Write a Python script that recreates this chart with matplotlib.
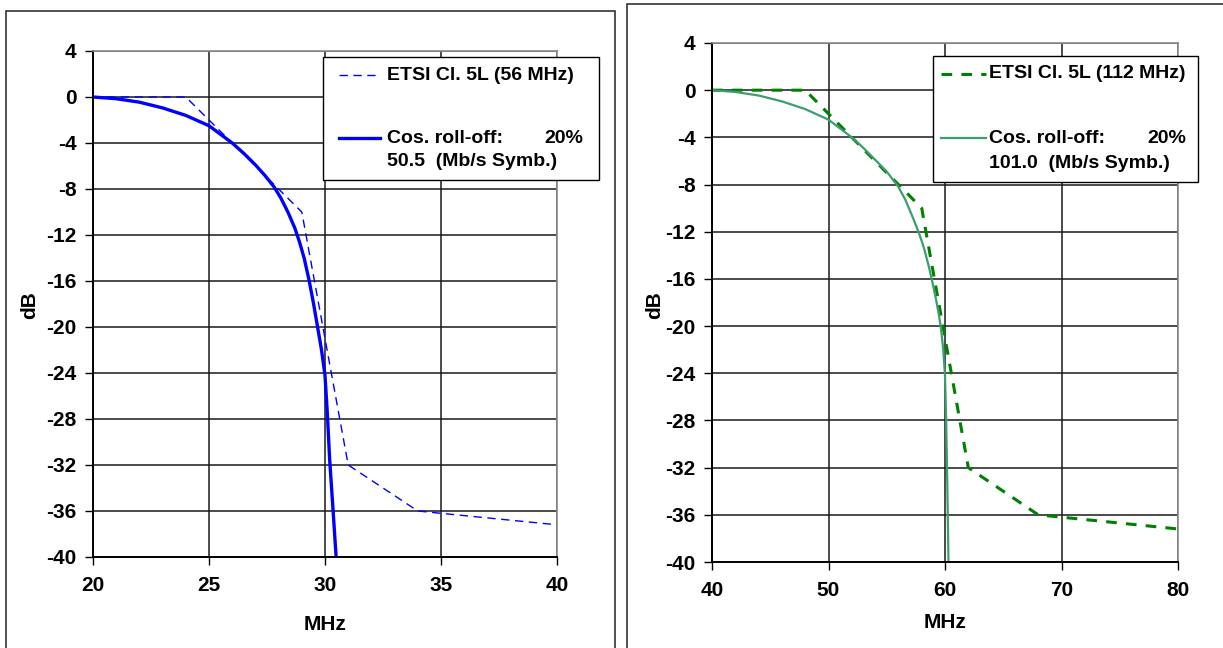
import matplotlib
matplotlib.use("Agg")
import matplotlib.pyplot as plt
from matplotlib.patches import Rectangle
from matplotlib.lines import Line2D

plt.rcParams['font.family'] = ['Liberation Sans', 'DejaVu Sans']
plt.rcParams['font.weight'] = 'bold'
plt.rcParams['axes.unicode_minus'] = False

W, H = 1223, 648

# ---- data ----
# left chart : 56 MHz channel
l_mask_f = [20, 24, 29, 31, 34, 40]
l_mask_db = [0, 0, -10, -32, -36, -37.2]
l_cos_f = [20, 21, 22, 23, 24, 25, 26, 26.5, 27, 27.4, 27.8, 28.1, 28.4, 28.7,
           28.9, 29.1, 29.3, 29.5, 29.68, 29.85, 30.0, 30.1, 30.2, 30.35, 30.48]
l_cos_db = [0, -0.15, -0.45, -0.95, -1.6, -2.5, -4.0, -4.9, -5.9, -6.8, -7.8,
            -8.8, -10.0, -11.4, -12.6, -14.0, -15.8, -17.9, -20.0, -22.0,
            -24.2, -27.5, -31.5, -36.0, -40.0]

# right chart : 112 MHz channel
r_mask_f = [40, 48, 58, 62, 68, 80]
r_mask_db = [0, 0, -10, -32, -36, -37.2]
r_cos_f = [40, 42, 44, 46, 48, 50, 52, 53, 54, 55, 56, 56.6, 57.2, 57.8, 58.2,
           58.6, 58.9, 59.2, 59.45, 59.67, 59.85, 60.0, 60.1, 60.2, 60.3]
r_cos_db = [0, -0.15, -0.45, -0.95, -1.6, -2.5, -4.0, -4.9, -5.9, -6.9, -8.2,
            -9.3, -10.7, -12.2, -13.4, -14.9, -16.2, -17.6, -18.9, -20.3,
            -22.0, -24.2, -28.0, -33.5, -40.0]

y_ticks = [4, 0, -4, -8, -12, -16, -20, -24, -28, -32, -36, -40]
l_xticks = [20, 25, 30, 35, 40]
r_xticks = [40, 50, 60, 70, 80]

l_leg = ['ETSI Cl. 5L (56 MHz)', 'Cos. roll-off:', '20%', '50.5  (Mb/s Symb.)']
r_leg = ['ETSI Cl. 5L (112 MHz)', 'Cos. roll-off:', '20%', '101.0  (Mb/s Symb.)']

FS_TICK = 15
FS_LEG = 14


def fx(p):
    return p / W


def fy(p):
    return 1 - p / H


def box(x0, y0, x1, y1):
    # rectangle in pixel coords -> figure fraction
    return [fx(x0), fy(y1), fx(x1) - fx(x0), fy(y0) - fy(y1)]


fig = plt.figure(figsize=(W / 100, H / 100), dpi=100)

# outer frames of the two chart objects
fig.patches.append(Rectangle((fx(6), fy(700)), fx(615) - fx(6), fy(11) - fy(700),
                             transform=fig.transFigure, fill=False,
                             edgecolor='#333333', lw=1.2))
fig.patches.append(Rectangle((fx(627), fy(700)), fx(1240) - fx(627), fy(4) - fy(700),
                             transform=fig.transFigure, fill=False,
                             edgecolor='#333333', lw=1.2))


def setup(ax, xlim, xticks):
    ax.set_xlim(*xlim)
    ax.set_ylim(-40, 4)
    ax.set_xticks(xticks)
    ax.set_yticks(y_ticks)
    ax.set_axisbelow(True)
    ax.grid(True, color='#1a1a1a', lw=1.1)
    ax.tick_params(direction='out', length=6, width=1.0, labelsize=FS_TICK,
                   colors='black')
    ax.tick_params(axis='y', pad=6)
    ax.tick_params(axis='x', pad=8)
    for s in ['top', 'right']:
        ax.spines[s].set_color('#8c8c8c')
        ax.spines[s].set_linewidth(1.2)
    for s in ['left', 'bottom']:
        ax.spines[s].set_color('black')
        ax.spines[s].set_linewidth(1.4)
    for lab in ax.get_xticklabels() + ax.get_yticklabels():
        lab.set_fontweight('bold')


# ---- left chart ----
ax1 = fig.add_axes(box(93, 51, 557, 557))
ax1.plot(l_mask_f, l_mask_db, color='#0000ff', lw=1.0, dashes=(6, 4))
ax1.plot(l_cos_f, l_cos_db, color='#0000ff', lw=2.4, solid_joinstyle='round')
setup(ax1, (20, 40), l_xticks)

# ---- right chart ----
ax2 = fig.add_axes(box(712, 43, 1178, 562))
ax2.plot(r_mask_f, r_mask_db, color='#008000', lw=2.2, dashes=(3.5, 3))
ax2.plot(r_cos_f, r_cos_db, color='#3a9e6e', lw=1.6, solid_joinstyle='round')
setup(ax2, (40, 80), r_xticks)

# axis titles
for x, y in [(30, 305), (655, 305)]:
    fig.text(fx(x), fy(y), 'dB', rotation=90, ha='center', va='center',
             fontsize=15, fontweight='bold')
for x, y in [(325, 625), (945, 622)]:
    fig.text(fx(x), fy(y), 'MHz', ha='center', va='center',
             fontsize=15, fontweight='bold')


# legends drawn by hand (multi-line second entry, handle on first line)
def legend(x0, y0, x1, y1, hx0, hx1, tx, rx, ys, texts, dash_style, solid_style):
    fig.patches.append(Rectangle((fx(x0), fy(y1)), fx(x1) - fx(x0), fy(y0) - fy(y1),
                                 transform=fig.transFigure, facecolor='white',
                                 edgecolor='black', lw=1.0, zorder=5))
    fig.lines.append(Line2D([fx(hx0), fx(hx1)], [fy(ys[0]), fy(ys[0])],
                            transform=fig.transFigure, zorder=6, **dash_style))
    fig.lines.append(Line2D([fx(hx0), fx(hx1)], [fy(ys[1]), fy(ys[1])],
                            transform=fig.transFigure, zorder=6, **solid_style))
    fig.text(fx(tx), fy(ys[0]), texts[0], va='center', ha='left', fontsize=FS_LEG,
             fontweight='bold', zorder=7)
    fig.text(fx(tx), fy(ys[1]), texts[1], va='center', ha='left', fontsize=FS_LEG,
             fontweight='bold', zorder=7)
    fig.text(fx(rx), fy(ys[1]), texts[2], va='center', ha='right', fontsize=FS_LEG,
             fontweight='bold', zorder=7)
    fig.text(fx(tx), fy(ys[2]), texts[3], va='center', ha='left', fontsize=FS_LEG,
             fontweight='bold', zorder=7)


legend(323, 57, 599, 180, 339, 380, 387, 583, (75, 138, 162), l_leg,
       dict(color='#0000ff', lw=1.0, dashes=(6, 4)),
       dict(color='#0000ff', lw=2.4))
legend(933, 56, 1198, 182, 941, 986, 989, 1186, (74, 138, 163), r_leg,
       dict(color='#008000', lw=2.2, dashes=(3.5, 3)),
       dict(color='#3a9e6e', lw=1.6))

fig.savefig('out.png', dpi=100)
